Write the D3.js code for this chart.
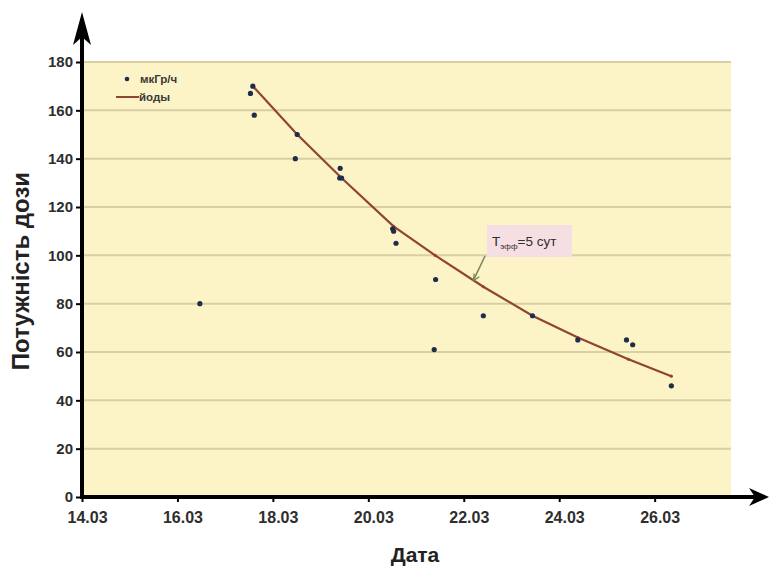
<!DOCTYPE html>
<html>
<head>
<meta charset="utf-8">
<script src="https://cdn.jsdelivr.net/npm/d3@7"></script>
<style>
  body { margin: 0; background: #fff; }
  svg text { font-family: "Liberation Sans", Arial, sans-serif; }
</style>
</head>
<body>
<div id="chartContainer"></div>
<script>
// measured dose rate, мкГр/ч
const dotDays = [16.47, 17.58, 17.53, 17.61, 18.51, 18.47, 19.41, 19.44, 19.40, 20.51, 20.53, 20.58, 21.41, 21.38, 22.41, 23.44, 24.39, 25.41, 25.54, 26.35];
const dotValues = [80, 170, 167, 158, 150, 140, 136, 132, 132, 111, 110, 105, 90, 61, 75, 75, 65, 65, 63, 46];

// iodine decay curve
const fitDays = [17.58, 18.51, 19.44, 20.53, 21.4, 22.41, 23.44, 24.39, 25.45, 26.35];
const fitValues = [170, 150, 132, 112, 100, 87, 75, 66, 57, 50];

const xTicks = [14, 16, 18, 20, 22, 24, 26];
const xTickLabels = ["14.03", "16.03", "18.03", "20.03", "22.03", "24.03", "26.03"];
const yTicks = [0, 20, 40, 60, 80, 100, 120, 140, 160, 180];

const width = 770;
const height = 567;

const x = d3.scaleLinear().domain([14, 27.6]).range([82, 731]);
const y = d3.scaleLinear().domain([0, 180]).range([497, 62]);

const svg = d3.create("svg")
    .attr("width", width)
    .attr("height", height)
    .attr("viewBox", [0, 0, width, height]);

// plot background
svg.append("rect")
    .attr("x", x(14))
    .attr("y", y(180))
    .attr("width", x(27.6) - x(14))
    .attr("height", y(0) - y(180))
    .attr("fill", "#fcf3c7");

// gridlines
svg.append("g")
    .selectAll("line")
    .data(yTicks.filter(d => d > 0))
    .join("line")
    .attr("x1", x(14))
    .attr("x2", x(27.6))
    .attr("y1", d => y(d))
    .attr("y2", d => y(d))
    .attr("stroke", "#d8d0a3")
    .attr("stroke-width", 2);

// y axis ticks + labels
const yAxis = svg.append("g")
    .attr("transform", `translate(${x(14)},0)`)
    .call(d3.axisLeft(y).tickValues(yTicks).tickSize(6).tickPadding(3));
yAxis.select(".domain").remove();
yAxis.selectAll(".tick line").attr("stroke", "#000").attr("stroke-width", 2);
yAxis.selectAll(".tick text")
    .attr("font-size", 15)
    .attr("font-weight", "bold")
    .attr("fill", "#2e2e2e")
    .attr("font-family", "Liberation Sans, Arial, sans-serif");

// x axis ticks + labels
const xAxis = svg.append("g")
    .attr("transform", `translate(0,${y(0)})`)
    .call(d3.axisBottom(x).tickValues(xTicks).tickFormat((d, i) => xTickLabels[i]).tickSize(5).tickPadding(10));
xAxis.select(".domain").remove();
xAxis.selectAll(".tick line").attr("stroke", "#000").attr("stroke-width", 2);
xAxis.selectAll(".tick text")
    .attr("font-size", 16)
    .attr("font-weight", "bold")
    .attr("fill", "#2e2e2e")
    .attr("dx", 5)
    .attr("font-family", "Liberation Sans, Arial, sans-serif");

// axis lines with arrows
const x0 = x(14), y0 = y(0);
svg.append("line")
    .attr("x1", x0).attr("x2", x0)
    .attr("y1", y0 + 2).attr("y2", 30)
    .attr("stroke", "#000").attr("stroke-width", 4);
svg.append("path")
    .attr("d", `M${x0},12 L${x0 + 9},45 L${x0},37 L${x0 - 9},45 Z`)
    .attr("fill", "#000");
svg.append("line")
    .attr("x1", x0 - 2).attr("x2", 755)
    .attr("y1", y0).attr("y2", y0)
    .attr("stroke", "#000").attr("stroke-width", 4);
svg.append("path")
    .attr("d", `M769,${y0} L749,${y0 - 9} L755,${y0} L749,${y0 + 9} Z`)
    .attr("fill", "#000");

// decay line
const line = d3.line()
    .x((d, i) => x(fitDays[i]))
    .y(d => y(d));

svg.append("path")
    .attr("fill", "none")
    .attr("stroke", "#8f4434")
    .attr("stroke-width", 2.2)
    .attr("d", line(fitValues));

svg.append("g")
    .selectAll("circle")
    .data(fitValues)
    .join("circle")
    .attr("cx", (d, i) => x(fitDays[i]))
    .attr("cy", d => y(d))
    .attr("r", 1.6)
    .attr("fill", "#a03a2c");

// dots
svg.append("g")
    .selectAll("circle")
    .data(dotValues)
    .join("circle")
    .attr("cx", (d, i) => x(dotDays[i]))
    .attr("cy", d => y(d))
    .attr("r", 2.6)
    .attr("fill", "#1f2c4a");

// legend
const legend = svg.append("g");
legend.append("circle")
    .attr("cx", 127).attr("cy", 79).attr("r", 2.3).attr("fill", "#1f2c4a");
legend.append("text")
    .attr("x", 140).attr("y", 83)
    .attr("font-size", 11.5).attr("font-weight", "bold").attr("fill", "#3a3a3a")
    .text("мкГр/ч");
legend.append("line")
    .attr("x1", 116).attr("x2", 139).attr("y1", 97).attr("y2", 97)
    .attr("stroke", "#8f4434").attr("stroke-width", 2);
legend.append("text")
    .attr("x", 139).attr("y", 101)
    .attr("font-size", 11.5).attr("font-weight", "bold").attr("fill", "#3a3a3a")
    .text("йоды");

// annotation
const note = svg.append("g");
note.append("line")
    .attr("x1", 485).attr("y1", 256)
    .attr("x2", x(22.2)).attr("y2", y(89.5))
    .attr("stroke", "#7c8a5c").attr("stroke-width", 1.6);
note.append("path")
    .attr("d", `M${x(22.2)},${y(89.5)} l1,-7 M${x(22.2)},${y(89.5)} l6,-4`)
    .attr("stroke", "#7c8a5c").attr("stroke-width", 1.4).attr("fill", "none");
note.append("rect")
    .attr("x", 487).attr("y", 225).attr("width", 85).attr("height", 32)
    .attr("fill", "#f6dfe2");
const noteText = note.append("text")
    .attr("x", 492).attr("y", 246)
    .attr("font-size", 13.5).attr("fill", "#2e2e2e");
noteText.append("tspan").text("T");
noteText.append("tspan").attr("font-size", 8).attr("dy", 3).text("эфф");
noteText.append("tspan").attr("dy", -3).text("=5 сут");

// axis titles
svg.append("text")
    .attr("transform", "translate(29,271) rotate(-90)")
    .attr("text-anchor", "middle")
    .attr("font-size", 24)
    .attr("font-weight", "bold")
    .attr("fill", "#222")
    .text("Потужність дози");

svg.append("text")
    .attr("x", 415).attr("y", 562)
    .attr("text-anchor", "middle")
    .attr("font-size", 21)
    .attr("font-weight", "bold")
    .attr("fill", "#222")
    .text("Дата");

document.getElementById('chartContainer').appendChild(svg.node());
</script>
</body>
</html>
